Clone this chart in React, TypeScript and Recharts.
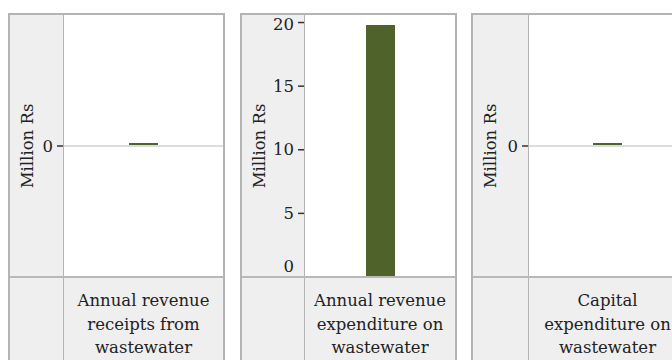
import { Bar, BarChart, CartesianGrid, Label, ReferenceLine, XAxis, YAxis } from "recharts";

const categories = [
  "Annual revenue receipts from wastewater",
  "Annual revenue expenditure on wastewater",
  "Capital expenditure on wastewater",
];
const values = [0, 19.8, 0];
const yTicks = [[0], [0, 5, 10, 15, 20], [0]];
const axisTitle = "Million Rs";

const panelLeft = [8, 240, 471];
const axisWidths = [54, 63, 56];
const font = "'DejaVu Serif', serif";
const fontSize = 16.5;
const innerW = 213;
const innerH = 356;
const plotH = 262;

const wrap = (text: string, max = 15) => {
  const lines: string[] = [];
  let cur = "";
  text.split(" ").forEach((w) => {
    if (cur && (cur + " " + w).length > max) {
      lines.push(cur);
      cur = w;
    } else {
      cur = cur ? cur + " " + w : w;
    }
  });
  if (cur) lines.push(cur);
  return lines;
};

const YTick = ({ x, y, payload }: any) => {
  const atBottom = y > plotH - 4;
  return (
    <text
      x={x}
      y={atBottom ? y - 11 : y}
      textAnchor="end"
      dominantBaseline="central"
      fontFamily={font}
      fontSize={fontSize}
      fill="#222"
    >
      {payload.value}
    </text>
  );
};

const XTick = ({ x, y, payload }: any) => (
  <text x={x} y={y} textAnchor="middle" fontFamily={font} fontSize={fontSize} fill="#222">
    {wrap(payload.value).map((line, i) => (
      <tspan key={i} x={x} dy={i === 0 ? 29 : 23.5}>
        {line}
      </tspan>
    ))}
  </text>
);

const renderTitle = ({ viewBox }: any) => {
  const cx = viewBox.x + 17;
  const cy = viewBox.y + viewBox.height / 2;
  return (
    <text
      x={cx}
      y={cy}
      transform={`rotate(-90, ${cx}, ${cy})`}
      textAnchor="middle"
      dominantBaseline="central"
      fontFamily={font}
      fontSize={fontSize}
      fill="#222"
    >
      {axisTitle}
    </text>
  );
};

const Panel = ({ index }: { index: number }) => {
  const value = values[index];
  const axisW = axisWidths[index];
  const data = [{ name: categories[index], value }];
  const domain: [number, number] = value === 0 ? [-1, 1] : [0, value * 1.04];
  return (
    <div
      style={{
        position: "absolute",
        left: panelLeft[index],
        top: 13,
        width: innerW + 4,
        height: innerH + 4,
        boxSizing: "border-box",
        border: "2px solid #b4b4b4",
        background: "#efefef",
      }}
    >
      <BarChart width={innerW} height={innerH} data={data} margin={{ top: 0, right: 0, bottom: 0, left: 0 }}>
        <CartesianGrid fill="#fff" horizontal={false} vertical={false} />
        <XAxis dataKey="name" height={innerH - plotH} tickLine={false} axisLine={false} tickSize={0} tickMargin={0} interval={0} tick={<XTick />} />
        <YAxis
          width={axisW}
          domain={domain}
          ticks={yTicks[index]}
          axisLine={false}
          tickSize={7}
          tickMargin={4}
          tickLine={{ stroke: "#333", strokeWidth: 1.5 }}
          tick={<YTick />}
        >
          <Label content={renderTitle} />
        </YAxis>
        <ReferenceLine y={0} stroke="#dcdcdc" strokeWidth={2} />
        <Bar dataKey="value" fill="#4e6229" barSize={29} minPointSize={3} isAnimationActive={false} />
      </BarChart>
      <div style={{ position: "absolute", left: axisW - 1, top: 0, width: 1, height: innerH, background: "#b4b4b4" }} />
      <div style={{ position: "absolute", left: 0, top: plotH - 1, width: innerW, height: 2, background: "#b8b8b8" }} />
    </div>
  );
};

export default function App() {
  return (
    <div style={{ position: "absolute", left: 0, top: 0, width: 672, height: 360, overflow: "hidden", background: "#fff" }}>
      {categories.map((_, i) => (
        <Panel key={i} index={i} />
      ))}
    </div>
  );
}
